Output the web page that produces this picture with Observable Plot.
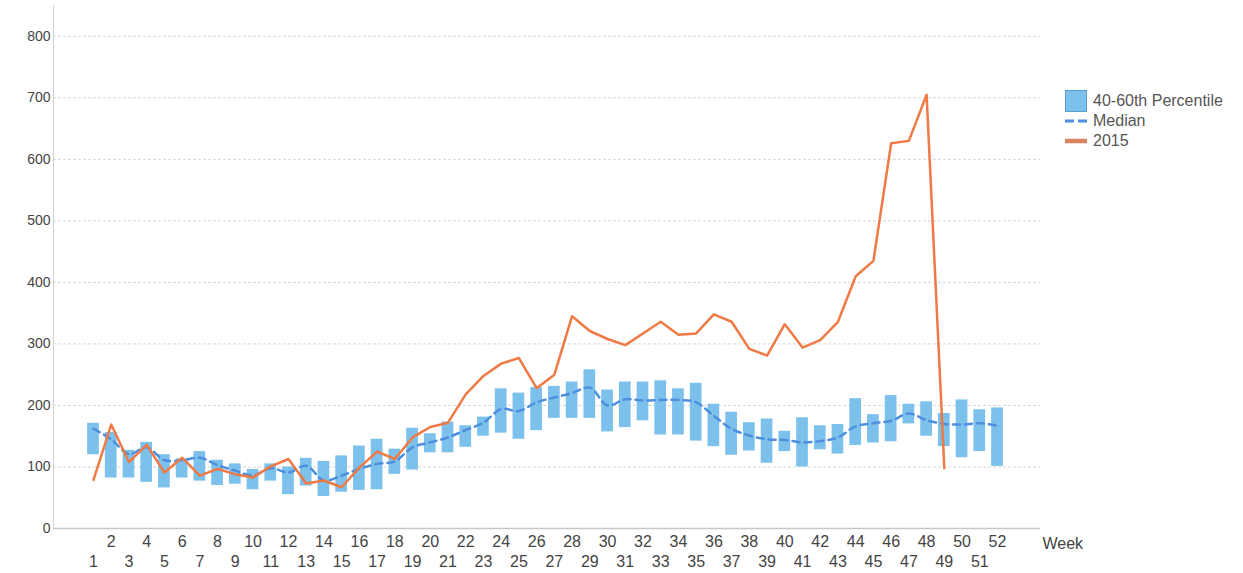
<!DOCTYPE html>
<html>
<head>
<meta charset="utf-8">
<script src="https://cdn.jsdelivr.net/npm/d3@7"></script>
<script src="https://cdn.jsdelivr.net/npm/@observablehq/plot@0.6"></script>
<style>
  html, body { margin: 0; padding: 0; background: #fff; }
  #wrap { position: relative; width: 1243px; height: 573px; font-family: "Liberation Sans", Arial, sans-serif; }
  #legend { position: absolute; left: 1065px; top: 91px; font-size: 16px; color: #555; }
  .row { display: flex; align-items: center; height: 20px; }
  .row svg { margin-right: 6px; }
</style>
</head>
<body>
<div id="wrap">
  <div id="chart"></div>
  <div id="legend"></div>
</div>
<script>
const weeks = [1,2,3,4,5,6,7,8,9,10,11,12,13,14,15,16,17,18,19,20,21,22,23,24,25,26,27,28,29,30,31,32,33,34,35,36,37,38,39,40,41,42,43,44,45,46,47,48,49,50,51,52];
const p40 = [120,82,82,75,66,82,77,70,72,63,77,55,69,52,59,62,63,88,95,123,123,132,150,155,145,159,179,179,179,157,164,175,152,152,142,133,119,126,106,125,100,128,121,135,139,141,170,150,133,115,125,101];
const p60 = [171,156,127,140,120,113,125,111,105,96,105,100,114,109,118,134,145,129,163,154,173,167,181,227,220,229,231,238,258,225,238,238,240,227,236,202,189,172,178,158,180,167,169,211,185,216,202,206,187,209,193,196];
const median = [162,145,121,132,111,111,115,103,94,86,98,91,102,78,86,97,105,109,132,140,148,160,172,194,191,205,213,220,229,200,210,208,209,209,205,183,162,151,145,144,140,142,148,166,171,175,187,176,170,169,171,167];
const y2015 = [79,169,108,136,91,115,86,97,88,83,101,113,73,78,67,99,125,113,148,165,172,218,248,268,277,228,250,345,321,308,298,317,336,315,317,348,336,292,281,332,294,306,336,410,435,626,630,705,98];
const yTicks = [0,100,200,300,400,500,600,700,800];
const evenWeeks = weeks.filter(w => w % 2 === 0);
const oddWeeks = weeks.filter(w => w % 2 === 1);
const legendLabels = ["40-60th Percentile", "Median", "2015"];

const bandData = weeks.map((w, i) => ({week: w, lo: p40[i], hi: p60[i]}));
const medData = weeks.map((w, i) => ({week: w, v: median[i]}));
const lineData = y2015.map((v, i) => ({week: weeks[i], v}));

const xDomain = [-1.2566, 54.426];
const halfW = 0.33;

const chart = Plot.plot({
  width: 1243,
  height: 573,
  marginLeft: 53,
  marginRight: 203,
  marginTop: 5,
  marginBottom: 45,
  style: {fontFamily: "Liberation Sans, Arial, sans-serif", color: "#444", background: "#fff"},
  x: {type: "linear", domain: xDomain, label: null},
  y: {domain: [0, 850], label: null},
  marks: [
    Plot.gridY(yTicks.filter(t => t > 0), {stroke: "#d6d6d6", strokeOpacity: 1, strokeDasharray: "3,2"}),
    Plot.ruleY([0], {stroke: "#c8c8c8", strokeWidth: 1.5}),
    Plot.ruleX([xDomain[0]], {y1: 0, y2: 850, stroke: "#d0d0d0"}),
    Plot.axisY(yTicks, {tickSize: 0, tickPadding: 3, fontSize: 14, fill: "#444", label: null}),
    Plot.axisX(evenWeeks, {tickSize: 0, tickPadding: 7, fontSize: 16, fill: "#444", label: null}),
    Plot.axisX(oddWeeks, {tickSize: 0, tickPadding: 27, fontSize: 16, fill: "#444", label: null}),
    Plot.text(["Week"], {frameAnchor: "bottom-right", text: d => d, textAnchor: "start", lineAnchor: "middle", dx: 2, dy: 15, fontSize: 16, fill: "#444"}),
    Plot.rect(bandData, {x1: d => d.week - halfW, x2: d => d.week + halfW, y1: "lo", y2: "hi", fill: "#7cc0ec"}),
    Plot.line(medData, {x: "week", y: "v", stroke: "#4b8fde", strokeWidth: 2.5, strokeDasharray: "7,5", curve: "catmull-rom"}),
    Plot.line(lineData, {x: "week", y: "v", stroke: "#f07a45", strokeWidth: 2.5})
  ]
});
document.getElementById("chart").appendChild(chart);

const icons = [
  '<svg width="22" height="22"><rect x="0.5" y="0.5" width="21" height="21" fill="#7cc0ec" stroke="#5a9fd4"/></svg>',
  '<svg width="22" height="22"><line x1="0" y1="11" x2="22" y2="11" stroke="#4b8fde" stroke-width="3" stroke-dasharray="9,4"/></svg>',
  '<svg width="22" height="22"><line x1="0" y1="11" x2="22" y2="11" stroke="#d9835f" stroke-width="4.5"/></svg>'
];
const legend = document.getElementById("legend");
legendLabels.forEach((lab, i) => {
  const row = document.createElement("div");
  row.className = "row";
  row.innerHTML = icons[i] + '<span>' + lab + '</span>';
  legend.appendChild(row);
});
</script>
</body>
</html>
